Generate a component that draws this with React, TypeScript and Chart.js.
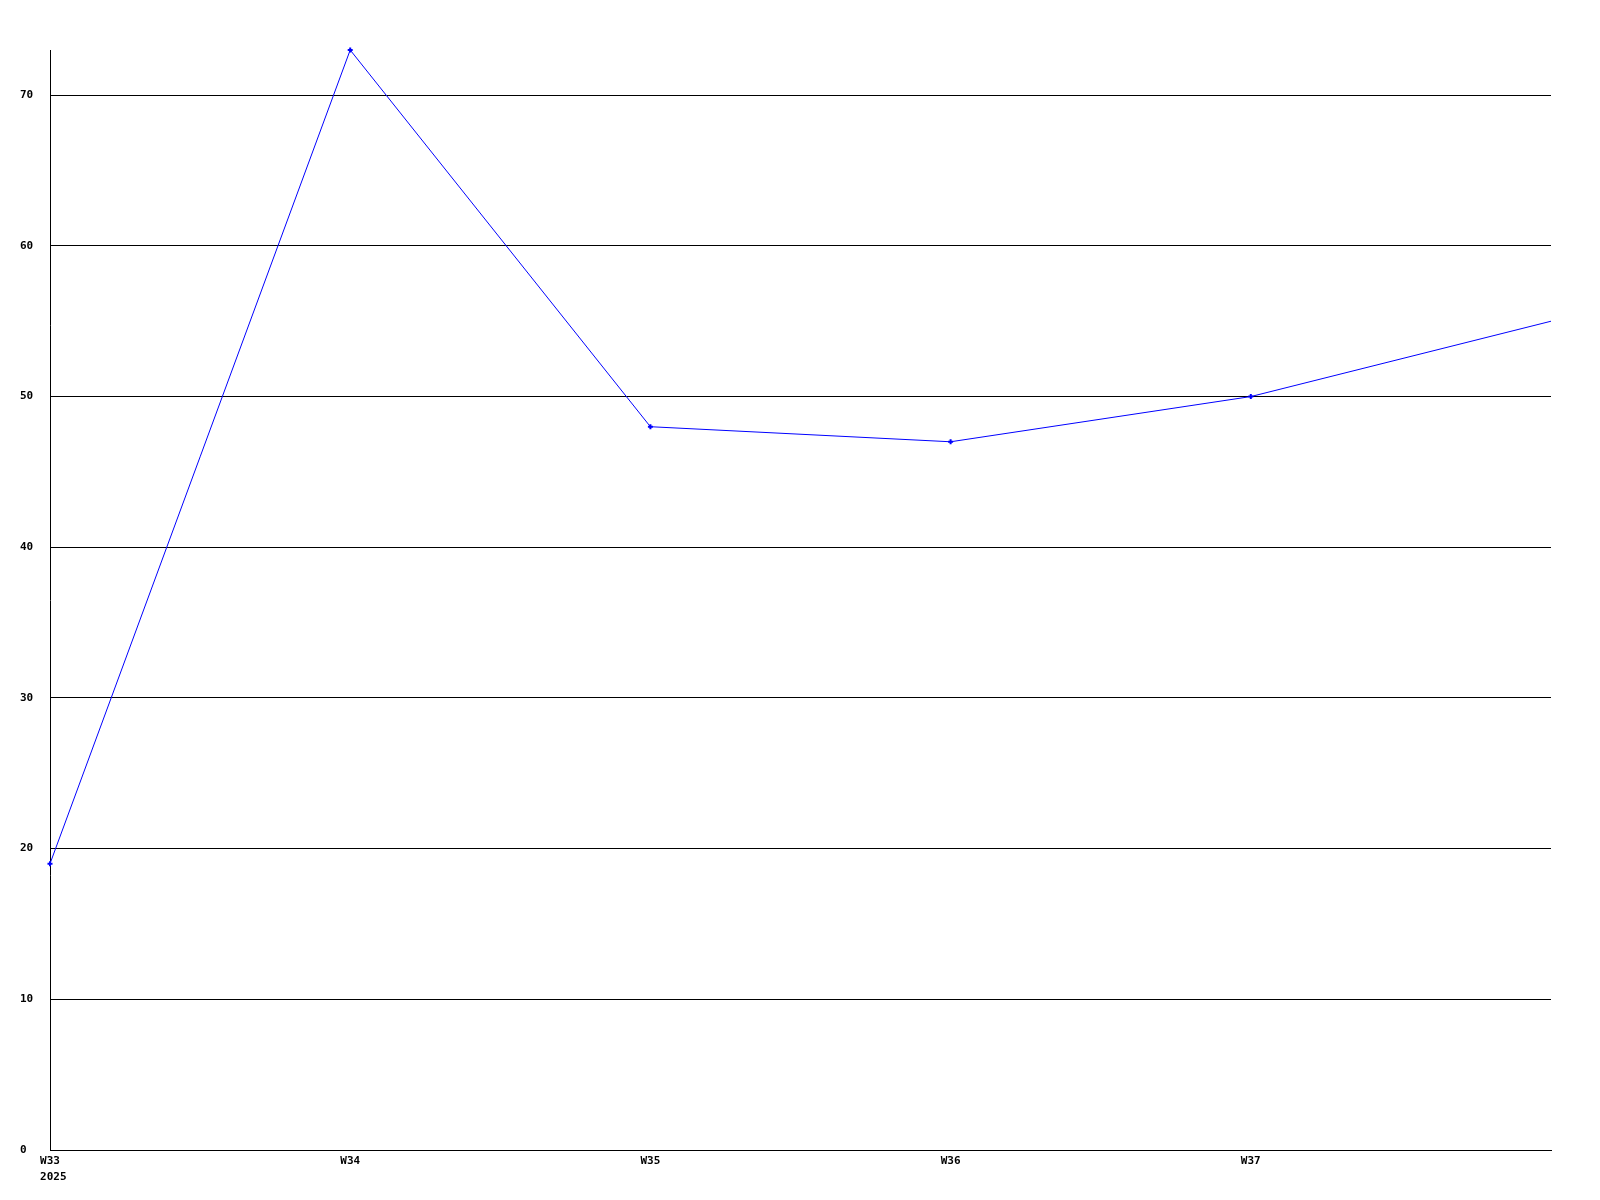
import React, { useEffect, useRef } from "react";
import { Chart, registerables } from "chart.js";

Chart.register(...registerables);

const weeks = ["W33", "W34", "W35", "W36", "W37", "W38"];
const yearLabel = "2025";
const values = [19, 73, 48, 47, 50, 55];
const pointRadii = [2.5, 2.5, 2.5, 2.5, 2.5, 0];
const yMin = 0;
const yMax = 73;
const yStep = 10;

const FONT_FAMILY = "'DejaVu Sans Mono', 'Liberation Mono', monospace";

const yearPlugin = {
  id: "yearLabel",
  afterDraw(chart: any) {
    const x = chart.scales.x;
    const ctx = chart.ctx;
    ctx.save();
    ctx.font = `bold 11px ${FONT_FAMILY}`;
    ctx.fillStyle = "#000000";
    ctx.textAlign = "left";
    ctx.textBaseline = "middle";
    const px = x.getPixelForValue(0);
    const w = ctx.measureText(weeks[0]).width;
    ctx.fillText(yearLabel, px - w / 2, x.top + 27);
    ctx.restore();
  },
};

export default function App() {
  const ref = useRef<HTMLCanvasElement | null>(null);

  useEffect(() => {
    if (!ref.current) return;
    const font = { family: FONT_FAMILY, size: 11, weight: "bold" as const, lineHeight: "15px" };
    const chart = new Chart(ref.current, {
      type: "line",
      data: {
        labels: weeks,
        datasets: [
          {
            data: values,
            borderColor: "#0000ff",
            backgroundColor: "#0000ff",
            borderWidth: 1,
            tension: 0,
            pointStyle: "cross",
            pointRadius: pointRadii,
            pointBorderWidth: 2,
            pointBorderColor: "#0000ff",
            clip: false as any,
            fill: false,
          },
        ],
      },
      options: {
        responsive: false,
        animation: false,
        devicePixelRatio: 1,
        layout: { padding: { top: 50, right: 49, left: 20, bottom: 0 } },
        plugins: {
          legend: { display: false },
          tooltip: { enabled: false },
        },
        scales: {
          x: {
            type: "category",
            offset: false,
            grid: { display: false, drawTicks: false },
            border: { display: true, color: "#000000", width: 1 },
            ticks: {
              autoSkip: false,
              maxRotation: 0,
              minRotation: 0,
              padding: 4,
              color: "#000000",
              font,
              callback: (_v: any, i: number) => {
                if (i === weeks.length - 1) return "";
                return weeks[i];
              },
            },
            afterFit: (scale: any) => {
              scale.height = 50;
            },
          },
          y: {
            min: yMin,
            max: yMax,
            grid: { color: "#000000", lineWidth: 1, drawTicks: false },
            border: { display: true, color: "#000000", width: 1 },
            ticks: {
              stepSize: yStep,
              crossAlign: "far",
              padding: 4,
              color: "#000000",
              font: { ...font, lineHeight: 1.2 },
            },
            afterBuildTicks: (scale: any) => {
              scale.ticks = scale.ticks.filter((t: any) => t.value % yStep === 0);
            },
            afterFit: (scale: any) => {
              scale.width = 30;
            },
          },
        },
      },
      plugins: [yearPlugin],
    });
    return () => chart.destroy();
  }, []);

  return (
    <div style={{ position: "absolute", left: 0, top: 0, width: 1600, height: 1200, background: "#ffffff" }}>
      <canvas ref={ref} width={1600} height={1200} style={{ width: 1600, height: 1200 }} />
    </div>
  );
}
